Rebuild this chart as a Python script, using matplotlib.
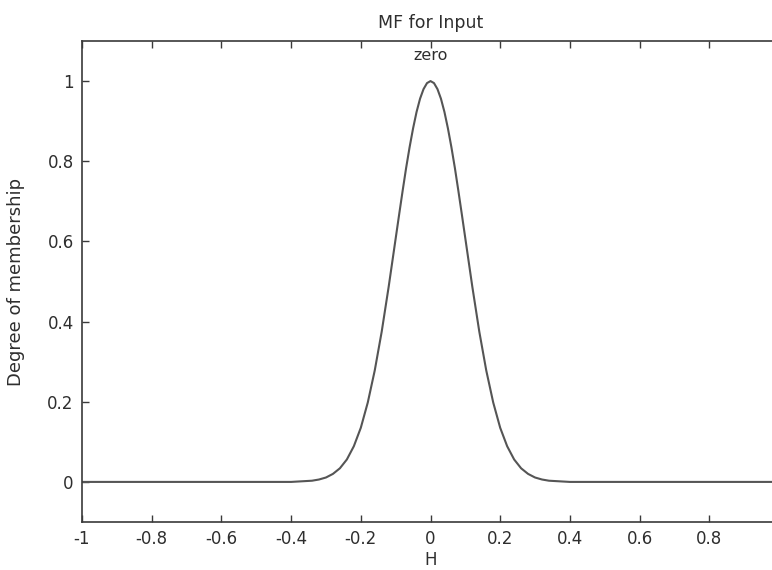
import numpy as np
import matplotlib
matplotlib.use('Agg')
import matplotlib.pyplot as plt

# membership curve "zero"
h_vals = [-1.0, -0.4, -0.38, -0.36, -0.34, -0.32, -0.3, -0.28, -0.26, -0.24, -0.22,
          -0.2, -0.18, -0.16, -0.14, -0.12, -0.1, -0.09, -0.08, -0.07, -0.06, -0.05,
          -0.04, -0.03, -0.02, -0.01, 0.0, 0.01, 0.02, 0.03, 0.04, 0.05, 0.06,
          0.07, 0.08, 0.09, 0.1, 0.12, 0.14, 0.16, 0.18, 0.2,
          0.22, 0.24, 0.26, 0.28, 0.3, 0.32, 0.34, 0.36, 0.38, 0.4, 1.0]
mu_vals = [0.0, 0.0, 0.001, 0.002, 0.003, 0.006, 0.011, 0.02, 0.034, 0.056, 0.089,
           0.135, 0.198, 0.278, 0.375, 0.487, 0.607, 0.667, 0.726, 0.783, 0.835, 0.882,
           0.923, 0.956, 0.98, 0.995, 1.0, 0.995, 0.98, 0.956, 0.923, 0.882, 0.835,
           0.783, 0.726, 0.667, 0.607, 0.487, 0.375, 0.278, 0.198, 0.135,
           0.089, 0.056, 0.034, 0.02, 0.011, 0.006, 0.003, 0.002, 0.001, 0.0, 0.0]
mf_name = 'zero'
x_ticks = [-1, -0.8, -0.6, -0.4, -0.2, 0, 0.2, 0.4, 0.6, 0.8]
x_ticklabels = ['-1', '-0.8', '-0.6', '-0.4', '-0.2', '0', '0.2', '0.4', '0.6', '0.8']
y_ticks = [0, 0.2, 0.4, 0.6, 0.8, 1]
y_ticklabels = ['0', '0.2', '0.4', '0.6', '0.8', '1']

plt.rcParams['font.family'] = ['DejaVu Sans']
plt.rcParams['axes.unicode_minus'] = False

W, H = 772, 570
fig = plt.figure(figsize=(W / 100, H / 100), dpi=100)
ax = fig.add_axes([82 / W, (H - 522) / H, 697 / W, (522 - 41) / H])

line_col = '#555555'
ax_col = '#3a3a3a'
txt_col = '#2e2e2e'

ax.plot(h_vals, mu_vals, color=line_col, lw=1.5)
ax.text(0, 1.045, mf_name, ha='center', va='bottom', fontsize=11.5, color=txt_col)

ax.set_xlim(-1, 1)
ax.set_ylim(-0.1, 1.1)
ax.set_xticks(x_ticks)
ax.set_xticklabels(x_ticklabels)
ax.set_yticks(y_ticks)
ax.set_yticklabels(y_ticklabels)

ax.tick_params(direction='in', length=5, width=1, colors=ax_col, labelcolor=txt_col,
               labelsize=12, top=True, right=True, pad=6)
for s in ax.spines.values():
    s.set_color(ax_col)
    s.set_linewidth(1.2)

ax.set_title('MF for Input', fontsize=12.5, color=txt_col, pad=9)
ax.set_xlabel('H', fontsize=12, color=txt_col, labelpad=2)
ax.set_ylabel('Degree of membership', fontsize=13, color=txt_col, labelpad=16)

fig.savefig('out.png', dpi=100)
